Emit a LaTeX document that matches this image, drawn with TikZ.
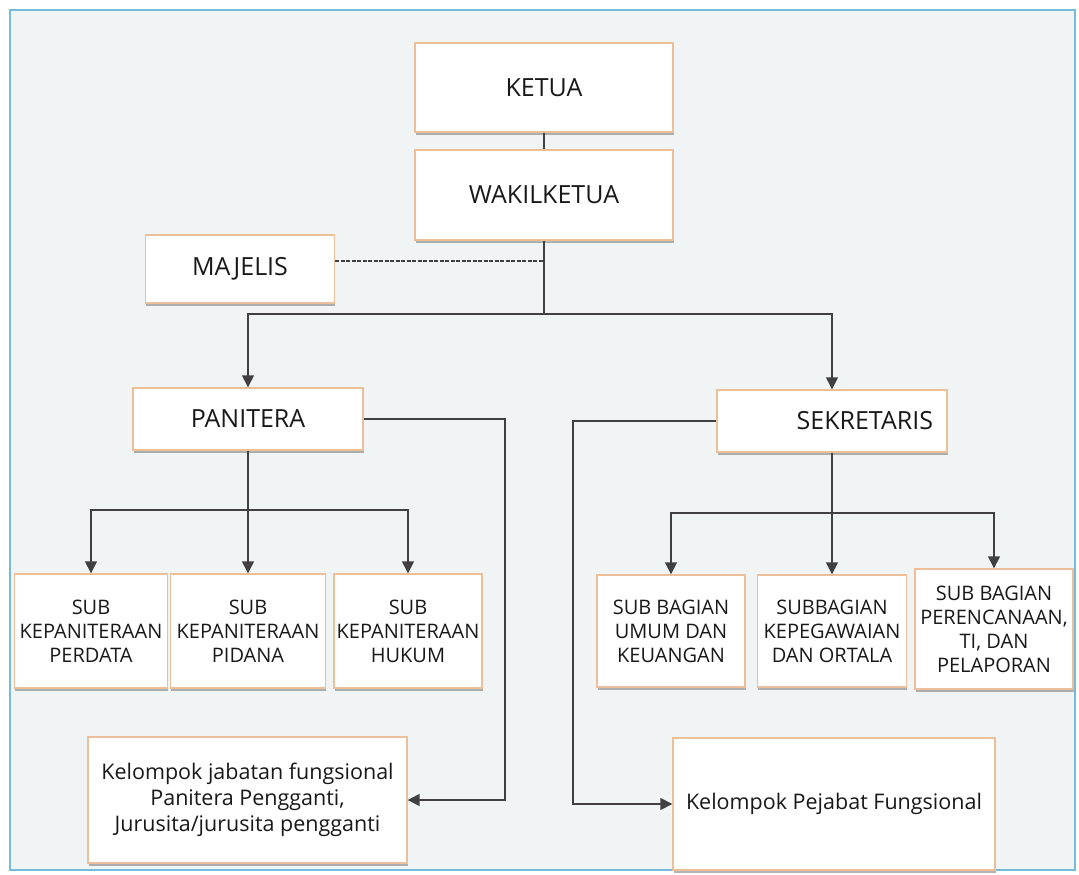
\documentclass[tikz,border=0pt]{standalone}
\usepackage{fontspec}
\setmainfont{Open Sans}
\usetikzlibrary{arrows.meta,shadows}
\definecolor{boxline}{HTML}{EDBF98}
\definecolor{lineclr}{HTML}{404040}
\definecolor{framebl}{HTML}{74BCD9}
\definecolor{bgclr}{HTML}{F1F4F4}
\tikzset{
  box/.style={draw=boxline, fill=white, line width=1.4pt, inner sep=2pt, align=center,
    text=black!90,
    drop shadow={shadow xshift=0.8pt, shadow yshift=-3pt, opacity=0.45, fill=black!65}},
  mainbox/.style={box, font=\fontsize{25}{30}\selectfont},
  subbox/.style={box, font=\fontsize{20}{24}\selectfont},
  lowbox/.style={box, font=\fontsize{21.5}{26}\selectfont},
  conn/.style={draw=lineclr, line width=1.5pt},
  arr/.style={conn, -{Triangle[length=12pt,width=12pt]}},
  dashconn/.style={draw=lineclr, line width=1.2pt, dash pattern=on 4pt off 1.5pt},
}
\begin{document}
\begin{tikzpicture}[x=1pt,y=-1pt]
\useasboundingbox (0,0) rectangle (1079,875);
\fill[white] (0,0) rectangle (1079,875);
\draw[framebl, fill=bgclr, line width=2pt] (10,10) rectangle (1075,870);

\node[mainbox, minimum width=258pt, minimum height=89pt] (ketua) at (544,87.5) {KETUA};
\node[mainbox, minimum width=258pt, minimum height=90pt] (wakil) at (544,195) {WAKILKETUA};
\node[mainbox, minimum width=189pt, minimum height=68pt] (majelis) at (240,269) {MAJELIS};
\node[mainbox, minimum width=230pt, minimum height=62pt] (panitera) at (248,419) {PANITERA};
\node[mainbox, minimum width=230pt, minimum height=62pt, text width=202pt, inner xsep=14pt, align=right] (sekretaris) at (832,421) {SEKRETARIS};

\node[subbox, minimum width=153pt, minimum height=114pt] (s1) at (91,631) {SUB\\KEPANITERAAN\\PERDATA};
\node[subbox, minimum width=155pt, minimum height=114pt] (s2) at (248,631) {SUB\\KEPANITERAAN\\PIDANA};
\node[subbox, minimum width=148pt, minimum height=114pt] (s3) at (408,631) {SUB\\KEPANITERAAN\\HUKUM};

\node[subbox, minimum width=148pt, minimum height=112pt] (t1) at (671,631) {SUB BAGIAN\\UMUM DAN\\KEUANGAN};
\node[subbox, minimum width=149pt, minimum height=112pt] (t2) at (832,631) {SUBBAGIAN\\KEPEGAWAIAN\\DAN ORTALA};
\node[subbox, minimum width=158pt, minimum height=120pt] (t3) at (994,629) {SUB BAGIAN\\PERENCANAAN,\\TI, DAN\\PELAPORAN};

\node[lowbox, minimum width=319pt, minimum height=126pt] (kel1) at (247.5,800) {Kelompok jabatan fungsional\\Panitera Pengganti,\\Jurusita/jurusita pengganti};
\node[lowbox, minimum width=322pt, minimum height=132pt] (kel2) at (834,804) {Kelompok Pejabat Fungsional};

% connectors
\coordinate (hb) at (544,314);
\coordinate (dj) at (544,261);
\coordinate (pr) at (505,419);
\coordinate (sl) at (573,421);
\coordinate (pb) at (248,510);
\coordinate (sb) at (832,513);

\draw[conn] (ketua) -- (wakil);
\draw[conn] (wakil) -- (hb);
\draw[dashconn] ([yshift=8pt]majelis.east) -- (dj);
\draw[arr] (hb) -| (panitera);
\draw[arr] (hb) -| (sekretaris);
\draw[arr] (panitera) -- (pr) |- (kel1);
\draw[arr] (sekretaris) -- (sl) |- (kel2);
\draw[conn] (panitera) -- (pb);
\draw[arr] (pb) -| (s1);
\draw[arr] (pb) -- (s2);
\draw[arr] (pb) -| (s3);
\draw[conn] (sekretaris) -- (sb);
\draw[arr] (sb) -| (t1);
\draw[arr] (sb) -- (t2);
\draw[arr] (sb) -| (t3);
\end{tikzpicture}
\end{document}
